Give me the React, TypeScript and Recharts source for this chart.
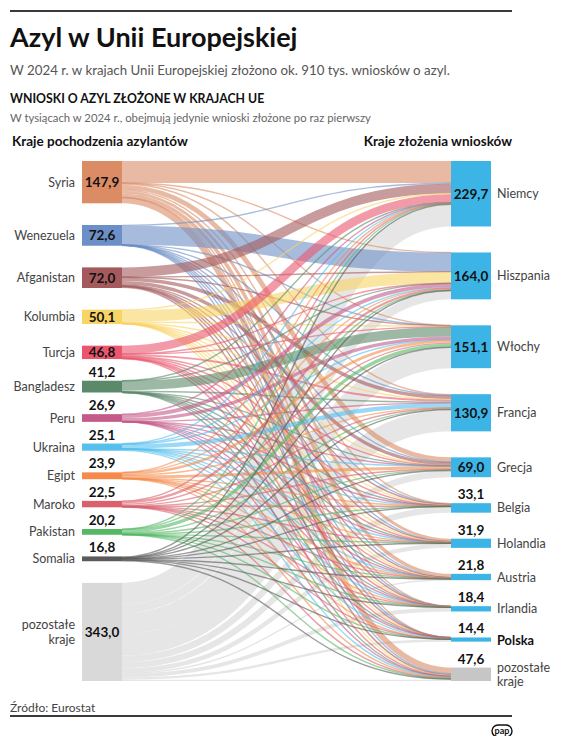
import React from "react";
import { Sankey } from "recharts";

// Kraje pochodzenia (lewa kolumna), tys. wniosków
const origins = [
  "Syria", "Wenezuela", "Afganistan", "Kolumbia", "Turcja", "Bangladesz", "Peru",
  "Ukraina", "Egipt", "Maroko", "Pakistan", "Somalia", "pozostałe kraje",
];
const originTotals = [147.9, 72.6, 72.0, 50.1, 46.8, 41.2, 26.9, 25.1, 23.9, 22.5, 20.2, 16.8, 343.0];
const originColors = [
  "#db8c65", "#6d8fc7", "#a45a5c", "#f8d465", "#e9566e", "#5b8a6b", "#c45a88",
  "#55c0ee", "#f58a4b", "#d9606c", "#55b865", "#5a5a5a", "#d9d9d9",
];

// Kraje złożenia wniosków (prawa kolumna)
const destinations = [
  "Niemcy", "Hiszpania", "Włochy", "Francja", "Grecja", "Belgia", "Holandia",
  "Austria", "Irlandia", "Polska", "pozostałe kraje",
];
const destinationTotals = [229.7, 164.0, 151.1, 130.9, 69.0, 33.1, 31.9, 21.8, 18.4, 14.4, 47.6];

// przepływy: kolejność jak w destinations
const fromSyria = [76.8, 0.5, 0.8, 4.5, 17, 4, 10, 13, 0.8, 0.2, 20.3];
const fromWenezuela = [2.5, 67, 0.3, 0.2, 0.1, 0.1, 0.1, 0.1, 0.1, 0.1, 2.0];
const fromAfganistan = [34.1, 0.3, 0.5, 13, 12, 2.5, 1.5, 2, 0.5, 0.3, 5.3];
const fromKolumbia = [2.5, 40, 3.5, 1.5, 0.1, 0.5, 0.5, 0.1, 0.5, 0.1, 0.8];
const fromTurcja = [29.2, 0.1, 0.6, 6.5, 1, 2.5, 2.5, 1.2, 0.1, 0.6, 2.5];
const fromBangladesz = [0.5, 0.3, 33, 5.5, 1, 0.1, 0.1, 0.1, 0.2, 0.1, 0.3];
const fromPeru = [0.3, 13.5, 11.6, 0.3, 0.1, 0.1, 0.1, 0.1, 0.1, 0.1, 0.6];
const fromUkraina = [0.8, 1.8, 0.5, 15, 0.1, 0.2, 0.1, 0.1, 0.1, 4.2, 2.2];
const fromEgipt = [0.6, 0.3, 9, 0.8, 10, 0.2, 0.2, 0.1, 0.3, 0.1, 2.3];
const fromMaroko = [1.2, 8, 5, 4, 0.5, 0.6, 0.5, 0.3, 0.3, 0.1, 2.0];
const fromPakistan = [1, 0.5, 11.5, 2, 3.5, 0.3, 0.2, 0.2, 0.5, 0.1, 0.4];
const fromSomalia = [4, 0.8, 0.4, 1.5, 1.5, 0.6, 0.8, 2, 1.2, 0.2, 3.8];
const fromOther = [75.4, 30.7, 73.1, 75.2, 22.4, 21.5, 15.5, 2.8, 13.8, 8.4, 4.2];

const flows = [
  fromSyria, fromWenezuela, fromAfganistan, fromKolumbia, fromTurcja, fromBangladesz,
  fromPeru, fromUkraina, fromEgipt, fromMaroko, fromPakistan, fromSomalia, fromOther,
];

const FONT = "Lato, 'Noto Sans', sans-serif";
const DEST_BLUE = "#3cb4e6";
const DEST_GREY = "#c6c6c6";

// the two columns have different gaps in the original, so invisible
// spacer nodes (linked to each other) stand in for the padding
const GAP_SHARE = 0.5;

type N = { name: string; kind: "origin" | "dest" | "spacer"; idx: number };

function buildData() {
  const nodes: N[] = [];
  const originIdx: number[] = [];
  const destIdx: number[] = [];
  const leftSpacers: number[] = [];
  const rightSpacers: number[] = [];

  origins.forEach((name, i) => {
    originIdx.push(nodes.length);
    nodes.push({ name, kind: "origin", idx: i });
    if (i < origins.length - 1) {
      leftSpacers.push(nodes.length);
      nodes.push({ name: "", kind: "spacer", idx: -1 });
    }
  });
  destinations.forEach((name, j) => {
    destIdx.push(nodes.length);
    nodes.push({ name, kind: "dest", idx: j });
    if (j < destinations.length - 1) {
      rightSpacers.push(nodes.length);
      nodes.push({ name: "", kind: "spacer", idx: -1 });
    }
  });

  const links: { source: number; target: number; value: number }[] = [];
  // grey "pozostałe" flows first so they sit underneath
  const order = [flows.length - 1, ...flows.slice(0, -1).map((_, i) => i)];
  order.forEach((i) => {
    flows[i].forEach((v, j) => {
      if (v > 0) links.push({ source: originIdx[i], target: destIdx[j], value: v });
    });
  });

  const total = originTotals.reduce((a, b) => a + b, 0);
  const gapTotal = (total * GAP_SHARE) / (1 - GAP_SHARE);
  const perLeft = gapTotal / leftSpacers.length;
  const perRight = gapTotal / rightSpacers.length;
  let a = 0;
  let b = 0;
  let remL = perLeft;
  let remR = perRight;
  while (a < leftSpacers.length && b < rightSpacers.length) {
    const amt = Math.min(remL, remR);
    if (amt > 1e-9) links.push({ source: leftSpacers[a], target: rightSpacers[b], value: amt });
    remL -= amt;
    remR -= amt;
    if (remL <= 1e-9) { a++; remL = perLeft; }
    if (remR <= 1e-9) { b++; remR = perRight; }
  }
  return { nodes, links };
}

const data = buildData();
const fmt = (v: number) => v.toFixed(1).replace(".", ",");

const renderNode = (props: any) => {
  const { x, y, width, height, payload } = props;
  const n = payload as N;
  if (n.kind === "spacer") return <g />;
  const cy = y + height / 2;
  const cx = x + width / 2;

  if (n.kind === "origin") {
    const value = originTotals[n.idx];
    const inside = value >= 45;
    const lines = n.name === "pozostałe kraje" ? ["pozostałe", "kraje"] : [n.name];
    return (
      <g>
        <rect x={x} y={y} width={width} height={height} fill={originColors[n.idx]} />
        {lines.map((l, k) => (
          <text
            key={k}
            x={x - 7}
            y={cy + (k - (lines.length - 1) / 2) * 15}
            textAnchor="end"
            dominantBaseline="central"
            fontFamily={FONT}
            fontSize={12.5}
            fill="#444"
          >
            {l}
          </text>
        ))}
        <text
          x={cx}
          y={inside ? cy : y - 4}
          textAnchor="middle"
          dominantBaseline={inside ? "central" : "auto"}
          fontFamily={FONT}
          fontSize={13.5}
          fontWeight={700}
          fill="#111"
        >
          {fmt(value)}
        </text>
      </g>
    );
  }

  const value = destinationTotals[n.idx];
  const isOther = n.name === "pozostałe kraje";
  const inside = value >= 60;
  const lines = isOther ? ["pozostałe", "kraje"] : [n.name];
  const bold = n.name === "Polska";
  return (
    <g>
      <rect x={x} y={y} width={width} height={height} fill={isOther ? DEST_GREY : DEST_BLUE} />
      {lines.map((l, k) => (
        <text
          key={k}
          x={x + width + 6}
          y={cy + (k - (lines.length - 1) / 2) * 14}
          textAnchor="start"
          dominantBaseline="central"
          fontFamily={FONT}
          fontSize={bold ? 12.8 : 12.5}
          fontWeight={bold ? 700 : 400}
          fill={bold ? "#111" : "#444"}
        >
          {l}
        </text>
      ))}
      <text
        x={cx}
        y={inside ? cy : y - 4}
        textAnchor="middle"
        dominantBaseline={inside ? "central" : "auto"}
        fontFamily={FONT}
        fontSize={13.5}
        fontWeight={700}
        fill="#111"
      >
        {fmt(value)}
      </text>
    </g>
  );
};

const renderLink = (props: any) => {
  const { sourceX, targetX, sourceY, targetY, sourceControlX, targetControlX, linkWidth, payload } = props;
  const src = payload.source as N;
  if (src.kind === "spacer") return <g />;
  const isRest = src.idx === origins.length - 1;
  return (
    <path
      d={`M${sourceX},${sourceY} C${sourceControlX},${sourceY} ${targetControlX},${targetY} ${targetX},${targetY}`}
      fill="none"
      stroke={isRest ? "#e3e3e3" : originColors[src.idx]}
      strokeOpacity={isRest ? 0.9 : 0.6}
      strokeWidth={Math.max(linkWidth, 1.4)}
    />
  );
};

export default function App() {
  return (
    <div style={{ position: "relative", width: 548, height: 728, fontFamily: FONT }}>
      <div style={{ position: "absolute", left: 0, top: 0 }}>
        <Sankey
          width={548}
          height={728}
          data={data}
          nodeWidth={40}
          nodePadding={0}
          iterations={0}
          sort={false}
          linkCurvature={0.5}
          margin={{ top: 153, right: 65, bottom: 55, left: 74 }}
          node={renderNode}
          link={renderLink}
        />
      </div>
      <svg
        width={548}
        height={728}
        style={{ position: "absolute", left: 0, top: 0, pointerEvents: "none" }}
      >
        <line x1={2} x2={504} y1={3} y2={3} stroke="#3a3a3a" strokeWidth={2} />
        <text x={2} y={39} fontFamily={FONT} fontSize={27} fontWeight={700} fill="#111">
          Azyl w Unii Europejskiej
        </text>
        <text x={2} y={67} fontFamily={FONT} fontSize={13.3} fill="#555">
          W 2024 r. w krajach Unii Europejskiej złożono ok. 910 tys. wniosków o azyl.
        </text>
        <text x={2} y={95} fontFamily={FONT} fontSize={12.3} fontWeight={700} fill="#111">
          WNIOSKI O AZYL ZŁOŻONE W KRAJACH UE
        </text>
        <text x={2} y={114} fontFamily={FONT} fontSize={11.3} fill="#666">
          W tysiącach w 2024 r., obejmują jedynie wnioski złożone po raz pierwszy
        </text>
        <text x={4} y={138} fontFamily={FONT} fontSize={13.5} fontWeight={700} fill="#111">
          Kraje pochodzenia azylantów
        </text>
        <text x={504} y={138} textAnchor="end" fontFamily={FONT} fontSize={13.5} fontWeight={700} fill="#111">
          Kraje złożenia wniosków
        </text>
        <text x={2} y={704} fontFamily={FONT} fontSize={12} fill="#444">
          Źródło: Eurostat
        </text>
        <line x1={2} x2={504} y1={708} y2={708} stroke="#3a3a3a" strokeWidth={2} />
        <rect x={484} y={717} width={20} height={12} rx={6} fill="#fff" stroke="#111" strokeWidth={1.4} />
        <text x={494} y={726} textAnchor="middle" fontFamily={FONT} fontSize={9} fontWeight={700} fill="#111">
          pap
        </text>
      </svg>
    </div>
  );
}
